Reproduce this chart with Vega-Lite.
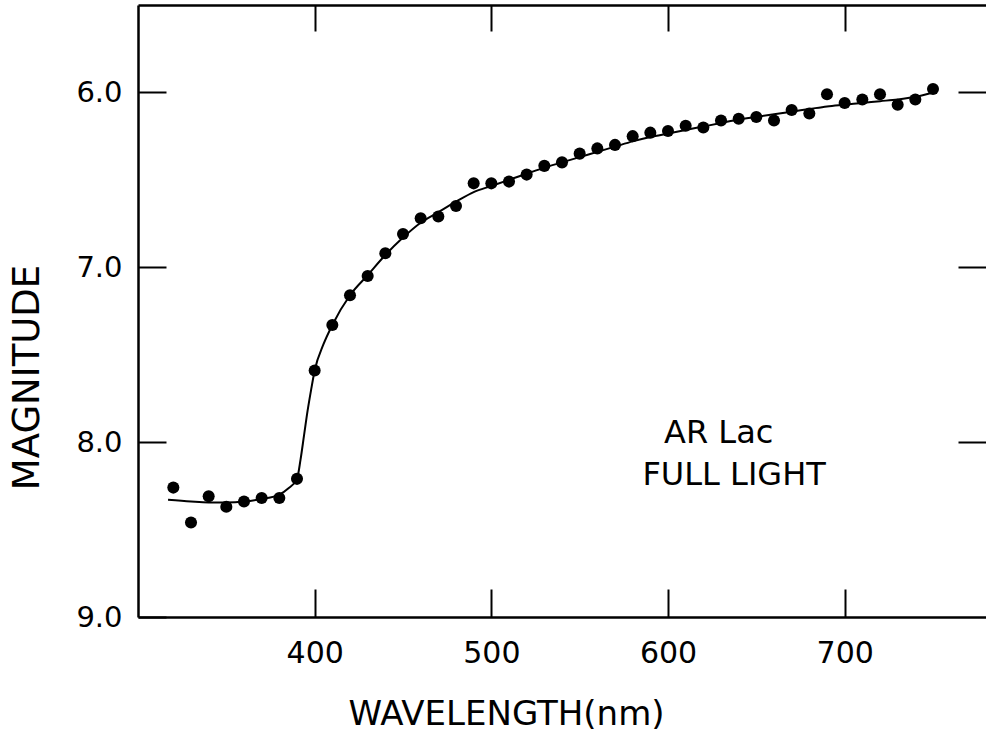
{
  "$schema": "https://vega.github.io/schema/vega-lite/v6.json",
  "width": 848,
  "height": 612,
  "autosize": {"type": "none"},
  "padding": {"left": 138, "top": 5, "right": 0, "bottom": 115},
  "background": "white",
  "config": {
    "view": {"stroke": null},
    "font": "DejaVu Sans",
    "axis": {
      "grid": false,
      "domainColor": "black",
      "domainWidth": 2.5,
      "tickColor": "black",
      "tickWidth": 2,
      "labelColor": "black",
      "labelFont": "DejaVu Sans",
      "labelFlush": false,
      "labelOverlap": false,
      "titleColor": "black",
      "titleFont": "DejaVu Sans",
      "titleFontWeight": "normal"
    }
  },
  "datasets": {
    "obs": [
      {"wavelength": 320, "magnitude": 8.26},
      {"wavelength": 330, "magnitude": 8.46},
      {"wavelength": 340, "magnitude": 8.31},
      {"wavelength": 350, "magnitude": 8.37},
      {"wavelength": 360, "magnitude": 8.34},
      {"wavelength": 370, "magnitude": 8.32},
      {"wavelength": 380, "magnitude": 8.32},
      {"wavelength": 390, "magnitude": 8.21},
      {"wavelength": 400, "magnitude": 7.59},
      {"wavelength": 410, "magnitude": 7.33},
      {"wavelength": 420, "magnitude": 7.16},
      {"wavelength": 430, "magnitude": 7.05},
      {"wavelength": 440, "magnitude": 6.92},
      {"wavelength": 450, "magnitude": 6.81},
      {"wavelength": 460, "magnitude": 6.72},
      {"wavelength": 470, "magnitude": 6.71},
      {"wavelength": 480, "magnitude": 6.65},
      {"wavelength": 490, "magnitude": 6.52},
      {"wavelength": 500, "magnitude": 6.52},
      {"wavelength": 510, "magnitude": 6.51},
      {"wavelength": 520, "magnitude": 6.47},
      {"wavelength": 530, "magnitude": 6.42},
      {"wavelength": 540, "magnitude": 6.40},
      {"wavelength": 550, "magnitude": 6.35},
      {"wavelength": 560, "magnitude": 6.32},
      {"wavelength": 570, "magnitude": 6.30},
      {"wavelength": 580, "magnitude": 6.25},
      {"wavelength": 590, "magnitude": 6.23},
      {"wavelength": 600, "magnitude": 6.22},
      {"wavelength": 610, "magnitude": 6.19},
      {"wavelength": 620, "magnitude": 6.20},
      {"wavelength": 630, "magnitude": 6.16},
      {"wavelength": 640, "magnitude": 6.15},
      {"wavelength": 650, "magnitude": 6.14},
      {"wavelength": 660, "magnitude": 6.16},
      {"wavelength": 670, "magnitude": 6.10},
      {"wavelength": 680, "magnitude": 6.12},
      {"wavelength": 690, "magnitude": 6.01},
      {"wavelength": 700, "magnitude": 6.06},
      {"wavelength": 710, "magnitude": 6.04},
      {"wavelength": 720, "magnitude": 6.01},
      {"wavelength": 730, "magnitude": 6.07},
      {"wavelength": 740, "magnitude": 6.04},
      {"wavelength": 750, "magnitude": 5.98}
    ],
    "fit": [
      {"wavelength": 317, "magnitude": 8.33},
      {"wavelength": 330, "magnitude": 8.34},
      {"wavelength": 340, "magnitude": 8.345},
      {"wavelength": 350, "magnitude": 8.345},
      {"wavelength": 360, "magnitude": 8.34},
      {"wavelength": 370, "magnitude": 8.325},
      {"wavelength": 380, "magnitude": 8.30},
      {"wavelength": 385, "magnitude": 8.265},
      {"wavelength": 390, "magnitude": 8.21},
      {"wavelength": 392, "magnitude": 8.10},
      {"wavelength": 394, "magnitude": 7.96},
      {"wavelength": 396, "magnitude": 7.82},
      {"wavelength": 398, "magnitude": 7.70},
      {"wavelength": 400, "magnitude": 7.59},
      {"wavelength": 405, "magnitude": 7.44},
      {"wavelength": 410, "magnitude": 7.33},
      {"wavelength": 420, "magnitude": 7.16},
      {"wavelength": 430, "magnitude": 7.045},
      {"wavelength": 440, "magnitude": 6.93},
      {"wavelength": 450, "magnitude": 6.83},
      {"wavelength": 460, "magnitude": 6.745},
      {"wavelength": 470, "magnitude": 6.685},
      {"wavelength": 480, "magnitude": 6.625},
      {"wavelength": 490, "magnitude": 6.57},
      {"wavelength": 500, "magnitude": 6.535},
      {"wavelength": 510, "magnitude": 6.50},
      {"wavelength": 520, "magnitude": 6.465},
      {"wavelength": 530, "magnitude": 6.43},
      {"wavelength": 540, "magnitude": 6.40},
      {"wavelength": 550, "magnitude": 6.37},
      {"wavelength": 560, "magnitude": 6.34},
      {"wavelength": 570, "magnitude": 6.31},
      {"wavelength": 580, "magnitude": 6.28},
      {"wavelength": 590, "magnitude": 6.255},
      {"wavelength": 600, "magnitude": 6.235},
      {"wavelength": 610, "magnitude": 6.215},
      {"wavelength": 620, "magnitude": 6.195},
      {"wavelength": 630, "magnitude": 6.175},
      {"wavelength": 640, "magnitude": 6.155},
      {"wavelength": 650, "magnitude": 6.14},
      {"wavelength": 660, "magnitude": 6.125},
      {"wavelength": 670, "magnitude": 6.11},
      {"wavelength": 680, "magnitude": 6.095},
      {"wavelength": 690, "magnitude": 6.08},
      {"wavelength": 700, "magnitude": 6.07},
      {"wavelength": 710, "magnitude": 6.06},
      {"wavelength": 720, "magnitude": 6.05},
      {"wavelength": 730, "magnitude": 6.04},
      {"wavelength": 740, "magnitude": 6.025},
      {"wavelength": 750, "magnitude": 6.0}
    ],
    "notes": [
      {"wavelength": 628.7, "magnitude": 8.006, "label": "AR Lac"},
      {"wavelength": 637.4, "magnitude": 8.246, "label": "FULL LIGHT"}
    ]
  },
  "layer": [
    {
      "data": {"name": "fit"},
      "mark": {"type": "line", "color": "black", "strokeWidth": 2, "interpolate": "monotone"},
      "encoding": {
        "x": {
          "field": "wavelength", "type": "quantitative",
          "scale": {"domain": [300, 780], "nice": false, "zero": false},
          "axis": {
            "orient": "bottom", "values": [400, 500, 600, 700],
            "tickSize": -28, "labelPadding": 49, "labelFontSize": 30,
            "title": "WAVELENGTH(nm)", "titleFontSize": 34,
            "titleX": 368, "titleY": 107, "titleAlign": "center", "titleBaseline": "alphabetic"
          }
        },
        "y": {
          "field": "magnitude", "type": "quantitative",
          "scale": {"domain": [5.5, 9.0], "reverse": true, "nice": false, "zero": false},
          "axis": {
            "orient": "left", "values": [6, 7, 8, 9], "format": ".1f",
            "tickSize": -28, "labelPadding": 44, "labelFontSize": 29,
            "title": "MAGNITUDE", "titleFontSize": 37, "titleAngle": -90,
            "titleX": -111, "titleY": 372, "titleAlign": "center", "titleBaseline": "middle"
          }
        }
      }
    },
    {
      "data": {"name": "obs"},
      "mark": {"type": "circle", "size": 145, "color": "black", "opacity": 1},
      "encoding": {
        "x": {
          "field": "wavelength", "type": "quantitative",
          "scale": {"domain": [300, 780], "nice": false, "zero": false},
          "axis": {"orient": "top", "values": [400, 500, 600, 700], "tickSize": -26, "labels": false, "title": null}
        },
        "y": {
          "field": "magnitude", "type": "quantitative",
          "scale": {"domain": [5.5, 9.0], "reverse": true, "nice": false, "zero": false},
          "axis": {"orient": "right", "values": [6, 7, 8], "tickSize": -28, "labels": false, "domain": false, "title": null}
        }
      }
    },
    {
      "data": {"name": "notes"},
      "mark": {"type": "text", "fontSize": 32, "color": "black", "align": "center", "baseline": "alphabetic"},
      "encoding": {
        "x": {"field": "wavelength", "type": "quantitative", "axis": null},
        "y": {"field": "magnitude", "type": "quantitative", "axis": null},
        "text": {"field": "label", "type": "nominal"}
      }
    }
  ],
  "resolve": {"axis": {"x": "independent", "y": "independent"}}
}
